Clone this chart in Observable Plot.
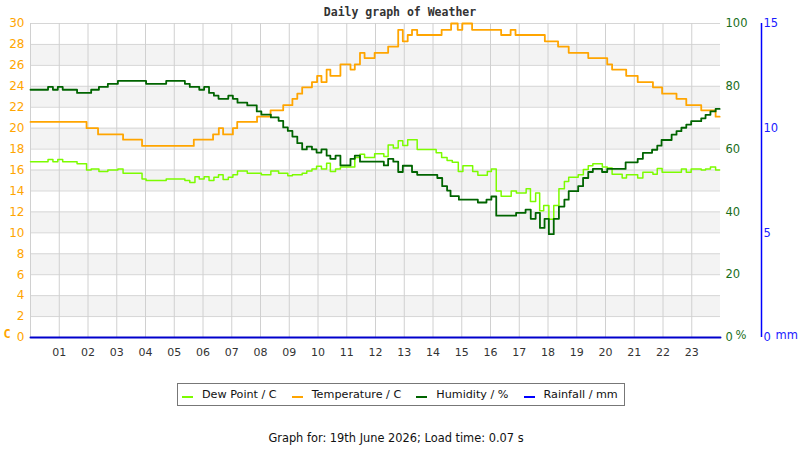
<!DOCTYPE html>
<html>
<head>
<meta charset="utf-8">
<script src="https://cdn.jsdelivr.net/npm/d3@7"></script>
<script src="https://cdn.jsdelivr.net/npm/@observablehq/plot@0.6"></script>
<style>
  html, body { margin: 0; padding: 0; background: #fff; }
  #wrap { position: relative; width: 800px; height: 450px; overflow: hidden; font-family: "DejaVu Sans", sans-serif; }
  #title { position: absolute; top: 4px; left: 0; width: 800px; text-align: center; font: bold 11.5px "DejaVu Sans Mono", monospace; line-height: 16px; color: #333; }
  #chart { position: absolute; top: 20px; left: 0; }
  #legend { position: absolute; left: 177px; top: 383px; width: 442px; height: 21px; border: 1px solid #777; display: flex; align-items: center; padding-left: 4px; box-sizing: content-box; gap: 15px; font-size: 11.2px; color: #111; }
  .item { display: flex; align-items: center; gap: 9px; }
  .sw { width: 11px; height: 2px; margin-top: 4px; }
  #caption { position: absolute; top: 430px; left: 0; width: 792px; text-align: center; font-size: 11.4px; line-height: 16px; color: #111; }
</style>
</head>
<body>
<div id="wrap">
  <div id="title">Daily graph of Weather</div>
  <div id="chart"></div>
  <div id="legend"></div>
  <div id="caption">Graph for: 19th June 2026; Load time: 0.07 s</div>
</div>
<script>
// ---- data (hours of day, step change points) ----
const tempTime = [0,1.95,2.35,3.22,3.88,5.68,6.35,6.55,6.70,7.04,7.19,7.88,8.35,8.79,9.11,9.28,9.45,9.79,9.97,10.12,10.30,10.43,10.78,11.13,11.28,11.46,11.62,11.97,12.44,12.79,12.95,13.12,13.27,13.45,14.30,14.63,14.86,15.02,15.36,16.37,16.70,16.87,17.89,18.35,18.72,19.40,20.06,20.23,20.72,21.12,21.65,21.97,22.47,22.81,23.33,23.83,23.97];
const temperature = [20.6,20.0,19.4,18.9,18.3,18.9,19.4,20.0,19.4,20.0,20.6,21.1,21.7,22.2,22.8,23.3,23.9,24.4,25.0,24.4,25.6,25.0,26.1,25.6,26.1,27.2,26.7,27.2,27.8,29.4,28.3,28.9,29.4,28.9,29.4,30.0,29.4,30.0,29.4,28.9,29.4,28.9,28.3,27.8,27.2,26.7,26.1,25.6,25.0,24.4,23.9,23.3,22.8,22.2,21.7,21.1,21.1];

const humTime = [0,0.61,0.78,0.95,1.12,1.62,2.11,2.38,2.69,3.04,4.02,4.72,5.37,5.54,5.87,6.04,6.21,6.38,6.54,6.88,7.04,7.20,7.54,7.87,8.03,8.36,8.63,8.79,8.95,9.11,9.28,9.45,9.61,9.79,9.95,10.12,10.30,10.43,10.61,10.78,11.13,11.28,11.46,12.29,12.44,12.62,12.79,12.95,13.27,13.45,14.15,14.32,14.49,14.61,14.90,15.56,15.86,16.03,16.20,16.89,17.22,17.40,17.57,17.72,17.88,18.03,18.20,18.38,18.57,18.72,19.05,19.22,19.40,19.56,19.88,20.06,20.70,21.12,21.30,21.62,21.80,21.95,22.30,22.47,22.64,22.81,22.98,23.33,23.48,23.65,23.83,23.97];
const humidity = [78.9,79.8,78.9,79.8,78.9,77.9,78.9,79.8,80.8,81.7,80.8,81.7,80.8,79.8,78.9,79.8,77.9,77.0,76.0,77.0,76.0,74.8,73.9,72.0,71.0,70.1,69.0,66.9,65.8,64.0,61.9,59.9,60.8,59.9,58.9,59.9,57.9,56.9,57.9,54.8,56.9,57.9,56.0,54.8,56.9,56.0,52.7,54.7,52.7,51.8,50.8,48.2,46.8,45.0,43.9,43.0,43.9,44.9,38.8,39.7,40.7,37.8,39.7,34.9,37.8,32.9,37.8,41.7,43.9,46.6,48.2,50.8,52.7,53.7,52.7,53.7,55.8,56.9,58.8,59.8,61.1,62.9,64.6,65.7,66.8,67.8,68.9,69.8,70.9,72.0,72.8,72.8];

const dewTime = [0,0.61,0.78,0.95,1.12,1.62,1.95,2.11,2.38,2.69,3.04,3.22,3.88,4.02,4.72,5.37,5.54,5.72,5.87,6.04,6.21,6.38,6.54,6.70,6.88,7.04,7.20,7.54,8.03,8.36,8.63,8.95,9.11,9.45,9.61,9.79,9.95,10.12,10.30,10.43,10.61,10.78,11.28,11.46,11.62,11.97,12.29,12.44,12.62,12.79,12.95,13.12,13.45,14.11,14.30,14.49,14.67,14.88,15.04,15.38,15.56,15.89,16.03,16.20,16.37,16.72,16.90,17.24,17.39,17.57,17.71,17.85,18.03,18.20,18.38,18.57,18.72,19.05,19.23,19.40,19.56,19.89,20.06,20.23,20.58,20.73,21.12,21.30,21.65,21.80,21.97,22.64,22.81,22.98,23.33,23.48,23.65,23.83,23.97];
const dewPoint = [16.8,17.0,16.8,17.0,16.8,16.6,16.0,16.1,15.85,16.0,16.1,15.7,15.15,15.0,15.15,15.0,14.8,15.35,15.15,15.35,15.0,15.3,15.55,15.1,15.3,15.55,15.9,15.7,15.55,15.9,15.7,15.45,15.55,15.7,15.9,16.1,16.35,16.1,16.65,15.85,16.1,16.3,17.2,17.5,17.2,17.55,17.3,18.4,18.1,18.8,18.35,18.9,17.95,17.65,17.2,16.9,16.75,15.85,16.4,15.85,15.5,15.85,16.1,14.0,13.5,14.0,13.8,14.2,13.0,13.8,12.1,12.6,11.3,12.6,14.2,14.9,15.3,15.55,16.05,16.4,16.6,16.3,16.2,15.6,15.25,15.55,15.25,15.8,15.6,16.15,15.8,16.1,15.8,16.1,16.0,16.1,16.3,16.0,16.0];

const rainTime = [0, 24];
const rainfall = [0, 0];

const tempTicks = [0,2,4,6,8,10,12,14,16,18,20,22,24,26,28,30];
const humTicks = [0,20,40,60,80,100];
const rainTicks = [0,5,10,15];
const hourTicks = [1,2,3,4,5,6,7,8,9,10,11,12,13,14,15,16,17,18,19,20,21,22,23];
const bandStarts = [2,6,10,14,18,22,26];

const series = [
  {name: "Dew Point / C", color: "#7cfc00"},
  {name: "Temperature / C", color: "#ffa500"},
  {name: "Humidity / %", color: "#006400"},
  {name: "Rainfall / mm", color: "#0000ff"}
];

// map secondary axes onto the temperature domain [0,30]
const HK = 30 / 100;
const RK = 30 / 15;

const zip = (t, v, k = 1) => t.map((x, i) => ({t: x, v: v[i] * k}));
const tempData = zip(tempTime, temperature);
const humData = zip(humTime, humidity, HK);
const dewData = zip(dewTime, dewPoint);
const rainData = zip(rainTime, rainfall, RK);

const chart = Plot.plot({
  width: 800,
  height: 345,
  marginTop: 3,
  marginLeft: 30,
  marginRight: 80,
  marginBottom: 28,
  style: {fontFamily: "DejaVu Sans, sans-serif", fontSize: "11px", background: "transparent", overflow: "visible"},
  x: {domain: [0, 24], axis: null, label: null},
  y: {domain: [0, 30], axis: null, label: null},
  marks: [
    Plot.rect(bandStarts, {y1: d => d, y2: d => d + 2, x1: 0, x2: 24, fill: "#f3f3f3"}),
    Plot.ruleY(tempTicks, {stroke: "#d6d6d6", strokeWidth: 1}),
    Plot.ruleX([0, ...hourTicks], {stroke: "#d0d0d0", strokeWidth: 1}),
    Plot.axisX(hourTicks, {tickSize: 0, tickPadding: 11, fontSize: 11, fill: "#333", tickFormat: d => String(d).padStart(2, "0")}),
    Plot.axisY(tempTicks, {anchor: "left", tickSize: 0, tickPadding: 6, fontSize: 12, fill: "#ffa500", label: null}),
    Plot.axisY(humTicks.map(v => v * HK), {anchor: "right", tickSize: 0, tickPadding: 5, fontSize: 11.5, fill: "#1a6e1a", tickFormat: d => Math.round(d / HK), label: null}),
    Plot.axisY(rainTicks.map(v => v * RK), {anchor: "right", tickSize: 0, tickPadding: 43, fontSize: 11.5, fill: "#1a1aff", tickFormat: d => Math.round(d / RK), label: null}),
    Plot.ruleX([24], {dx: 41, stroke: "#0000ff", strokeWidth: 1.5}),
    Plot.text(["C"], {frameAnchor: "bottom-left", dx: -27, dy: 0, textAnchor: "start", fill: "#ffa500", fontWeight: "bold", fontSize: 12, fontFamily: "DejaVu Sans Mono"}),
    Plot.text(["%"], {frameAnchor: "bottom-right", dx: 15, dy: 1, textAnchor: "start", fill: "#1a6e1a", fontSize: 11.5}),
    Plot.text(["mm"], {frameAnchor: "bottom-right", dx: 55, dy: 1, textAnchor: "start", fill: "#1a1aff", fontSize: 11.5}),
    Plot.line(dewData, {x: "t", y: "v", curve: "step-after", stroke: "#7cfc00", strokeWidth: 1.5}),
    Plot.line(tempData, {x: "t", y: "v", curve: "step-after", stroke: "#ffa500", strokeWidth: 1.8}),
    Plot.line(humData, {x: "t", y: "v", curve: "step-after", stroke: "#006400", strokeWidth: 1.8}),
    Plot.line(rainData, {x: "t", y: "v", stroke: "#0000cc", strokeWidth: 2})
  ]
});
document.getElementById("chart").appendChild(chart);

const legend = document.getElementById("legend");
for (const s of series) {
  const it = document.createElement("div");
  it.className = "item";
  const sw = document.createElement("div");
  sw.className = "sw";
  sw.style.background = s.color;
  const tx = document.createElement("span");
  tx.textContent = s.name;
  it.appendChild(sw);
  it.appendChild(tx);
  legend.appendChild(it);
}
</script>
</body>
</html>
